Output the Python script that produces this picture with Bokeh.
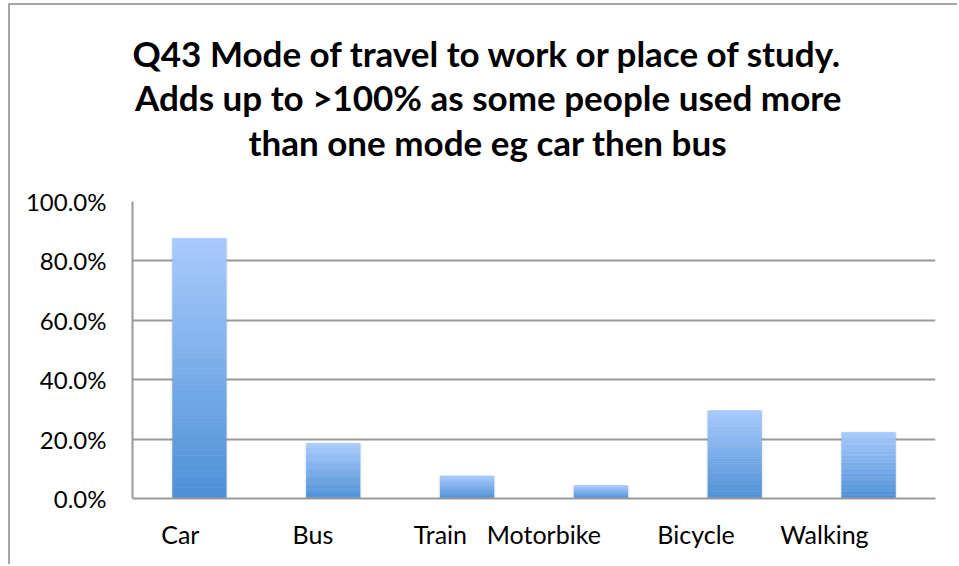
import numpy as np
from bokeh.plotting import figure
from bokeh.models import FactorRange, Range1d, FixedTicker, NumeralTickFormatter, Title
from bokeh.embed import file_html
from bokeh.resources import INLINE

# ---- data ----
title_lines = [
    "Q43 Mode of travel to work or place of study.",
    "Adds up to >100% as some people used more",
    "than one mode eg car then bus",
]
categories = ["Car", "Bus", "Train", "Motorbike", "Bicycle", "Walking"]
values = [0.876, 0.186, 0.076, 0.043, 0.296, 0.223]
y_ticks = [0.0, 0.2, 0.4, 0.6, 0.8, 1.0]

# ---- styling ----
GRID = "#9a9a9a"
FONT = "Lato"
top_rgb = np.array([0xA9, 0xCB, 0xFD], dtype=float)
bot_rgb = np.array([0x4D, 0x90, 0xD6], dtype=float)

p = figure(
    x_range=FactorRange(factors=categories, range_padding=0),
    y_range=Range1d(0, 1),
    width=949, height=561,
    min_border_left=122, min_border_right=24,
    min_border_top=196, min_border_bottom=64,
    output_backend="svg", toolbar_location=None,
    background_fill_color="white", border_fill_color="white",
    title_location=None,
)
p.outline_line_color = None
p.styles = {"border-left": "2px solid #a6a6a6", "border-top": "2px solid #a6a6a6",
            "margin-left": "8px", "margin-top": "3px"}

# soft shadow
p.vbar(x=categories, top=values, width=0.43, fill_color="black", fill_alpha=0.035, line_color=None)
p.vbar(x=categories, top=values, width=0.415, fill_color="black", fill_alpha=0.05, line_color=None)

# gradient bars built from slices of each bar's value
N = 48
xs, bottoms, tops, colors = [], [], [], []
for c, v in zip(categories, values):
    for i in range(N):
        t = (i + 0.5) / N
        rgb = bot_rgb + (top_rgb - bot_rgb) * t
        xs.append(c)
        bottoms.append(v * i / N)
        tops.append(v * (i + 1) / N)
        colors.append("#%02x%02x%02x" % tuple(int(round(k)) for k in rgb))
p.vbar(x=xs, bottom=bottoms, top=tops, width=0.4, fill_color=colors,
       line_color=colors, line_width=0.6)

# grid
p.xgrid.grid_line_color = None
p.ygrid.ticker = FixedTicker(ticks=y_ticks)
p.ygrid.grid_line_color = GRID
p.ygrid.grid_line_width = 2
p.ygrid.level = "underlay"

# axes
p.yaxis.ticker = FixedTicker(ticks=y_ticks)
p.yaxis.formatter = NumeralTickFormatter(format="0.0%")
for ax in (p.xaxis[0], p.yaxis[0]):
    ax.axis_line_color = GRID
    ax.axis_line_width = 2
    ax.major_tick_line_color = None
    ax.minor_tick_line_color = None
    ax.major_label_text_font = FONT
    ax.major_label_text_color = "black"
p.xaxis.major_label_text_font_size = "25px"
p.yaxis.major_label_text_font_size = "24px"
p.yaxis.major_label_standoff = 20
p.xaxis.major_label_standoff = 29
p.xaxis.major_label_orientation = 0

# spacer between the plot frame and the title block
p.add_layout(Title(text=" ", text_font_size="1px", standoff=35), "above")

# title: three lines, added from the plot outward
offsets = [0, 2.5, 116]
standoffs = [0, 0, 2]
for line, off, so in reversed(list(zip(title_lines, offsets, standoffs))):
    p.add_layout(Title(text=line, align="left", offset=off, text_font=FONT,
                       text_font_style="bold", text_font_size="35px",
                       text_color="black", standoff=so), "above")

open("out.html", "w").write(file_html(p, INLINE))
